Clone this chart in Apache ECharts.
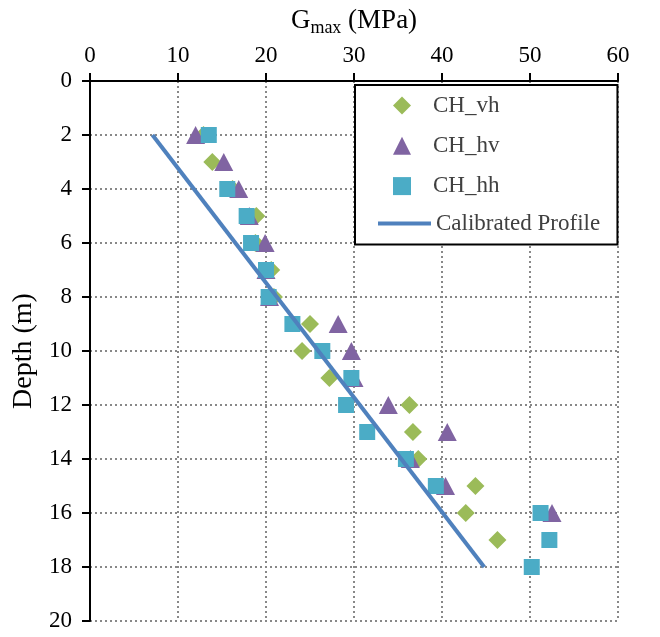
<!DOCTYPE html>
<html><head><meta charset="utf-8">
<script src="https://cdn.jsdelivr.net/npm/echarts@6/dist/echarts.min.js"></script>
<style>html,body{margin:0;padding:0;background:#fff}#c{width:660px;height:637px}</style>
</head><body><div id="c"></div>
<script>
const depthsVH = [2,3,4,5,6,7,8,9,10,11,12,13,14,15,16,17];
const gVH = [12.9,13.9,16.2,18.9,18.8,20.6,20.9,25.0,24.1,27.2,36.3,36.7,37.3,43.8,42.7,46.3];
const depthsHV = [2,3,4,5,6,7,8,9,10,11,12,13,14,15,16];
const gHV = [12.0,15.2,16.9,18.1,19.9,20.0,20.4,28.2,29.7,30.0,33.9,40.6,36.4,40.4,52.5];
const depthsHH = [2,4,5,6,7,8,9,10,11,12,13,14,15,16,17,18];
const gHH = [13.5,15.6,17.8,18.3,20.0,20.3,23.0,26.4,29.7,29.1,31.5,35.9,39.3,51.2,52.2,50.2];
const profileDepth = [2,18];
const profileG = [7.1,44.8];
const xTicks = [0,10,20,30,40,50,60];
const yTicks = [0,2,4,6,8,10,12,14,16,18,20];

const pairs = (xs, ys) => xs.map((x,i)=>[x, ys[i]]);
const FONT = '"Liberation Serif", "Times New Roman", serif';
const legendText = {fontFamily:FONT,fontSize:23,color:'#404040',lineHeight:22};
const chart = echarts.init(document.getElementById('c'));
chart.setOption({
  animation:false,
  backgroundColor:'#fff',
  textStyle:{fontFamily:FONT},
  grid:{left:90, top:81, right:42, bottom:16, outerBoundsMode:'none', containLabel:false},
  xAxis:{
    type:'value', position:'top', min:xTicks[0], max:xTicks[xTicks.length-1], interval:10,
    name:'{a|G}{s|max}{a| (MPa)}', nameLocation:'middle', nameGap:44,
    nameTextStyle:{fontFamily:FONT,fontSize:27,color:'#000',rich:{a:{fontFamily:FONT,fontSize:27,color:'#000'},s:{fontFamily:FONT,fontSize:18,color:'#000',verticalAlign:'bottom',padding:[14,0,0,0]}}},
    axisLine:{show:true,lineStyle:{color:'#000',width:2}},
    axisTick:{show:true,inside:false,length:8,lineStyle:{color:'#000',width:2}},
    axisLabel:{fontFamily:FONT,fontSize:23,color:'#000',margin:14},
    splitLine:{show:true,lineStyle:{color:'#888',width:2,type:[2,3]}}
  },
  yAxis:{
    type:'value', inverse:true, min:yTicks[0], max:yTicks[yTicks.length-1], interval:2,
    name:'Depth (m)', nameLocation:'middle', nameGap:50, nameRotate:90,
    nameTextStyle:{fontFamily:FONT,fontSize:28,color:'#000'},
    axisLine:{show:true,onZero:false,lineStyle:{color:'#000',width:2}},
    axisTick:{show:true,inside:false,length:8,lineStyle:{color:'#000',width:2}},
    axisLabel:{fontFamily:FONT,fontSize:23,color:'#000',margin:18},
    splitLine:{show:true,lineStyle:{color:'#888',width:2,type:[2,3]}}
  },
  legend:[
    {
      orient:'vertical', left:355, top:85, z:4,
      backgroundColor:'#fff', borderColor:'#000', borderWidth:2,
      padding:[9,118,47,38], itemWidth:18, itemHeight:18, itemGap:17.3,
      textStyle:Object.assign({padding:[0,0,0,17]}, legendText),
      data:[
        {name:'CH_vh', icon:'diamond'},
        {name:'CH_hv', icon:'triangle'},
        {name:'CH_hh', icon:'rect'}
      ]
    },
    {
      orient:'vertical', left:376, top:212, z:5, padding:0,
      itemWidth:53, itemHeight:15,
      itemStyle:{opacity:0},
      lineStyle:{width:4, color:'#4F81BD'},
      textStyle:legendText,
      data:['Calibrated Profile']
    }
  ],
  series:[
    {name:'CH_vh',type:'scatter',symbol:'diamond',symbolSize:18,itemStyle:{color:'#9BBB59',opacity:1},data:pairs(gVH,depthsVH),z:3},
    {name:'CH_hv',type:'scatter',symbol:'triangle',symbolSize:[19,18],itemStyle:{color:'#8064A2',opacity:1},data:pairs(gHV,depthsHV),z:4},
    {name:'CH_hh',type:'scatter',symbol:'rect',symbolSize:16,itemStyle:{color:'#4BACC6',opacity:1},data:pairs(gHH,depthsHH),z:5},
    {name:'Calibrated Profile',type:'line',showSymbol:false,symbol:'none',lineStyle:{color:'#4F81BD',width:4},itemStyle:{color:'#4F81BD'},data:pairs(profileG,profileDepth),z:6}
  ]
});
</script></body></html>
